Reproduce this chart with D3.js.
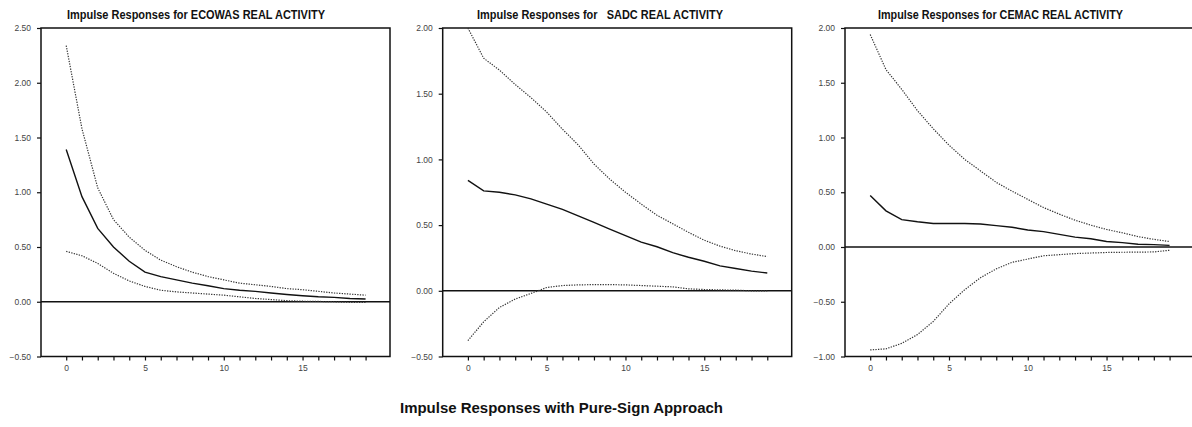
<!DOCTYPE html>
<html>
<head>
<meta charset="utf-8">
<script src="https://cdn.jsdelivr.net/npm/d3@7"></script>
<style>
  body { margin: 0; background: #fff; }
  svg { display: block; }
  .tick text { font-family: "Liberation Sans", Arial, sans-serif; font-size: 8.5px; fill: #444; }
  .title { font-family: "Liberation Sans", Arial, sans-serif; font-weight: bold; fill: #111; white-space: pre; }
</style>
</head>
<body>
<svg id="chart" width="1192" height="427"></svg>
<script>
// horizons (steps after shock)
const steps = [0, 1, 2, 3, 4, 5, 6, 7, 8, 9, 10, 11, 12, 13, 14, 15, 16, 17, 18, 19];
const xTickLabels = [0, 5, 10, 15];

// ECOWAS
const ecowasResp = [1.39, 0.96, 0.67, 0.50, 0.37, 0.27, 0.23, 0.20, 0.17, 0.146, 0.12, 0.105, 0.095, 0.08, 0.066, 0.055, 0.045, 0.04, 0.03, 0.025];
const ecowasUpper = [2.34, 1.58, 1.04, 0.75, 0.59, 0.47, 0.38, 0.32, 0.27, 0.23, 0.20, 0.17, 0.155, 0.14, 0.12, 0.11, 0.095, 0.08, 0.07, 0.06];
const ecowasLower = [0.46, 0.42, 0.35, 0.26, 0.19, 0.14, 0.105, 0.09, 0.08, 0.07, 0.06, 0.045, 0.03, 0.02, 0.01, 0.005, 0.003, 0.0, -0.005, -0.005];
const ecowasYTicks = [-0.5, 0, 0.5, 1.0, 1.5, 2.0, 2.5];

// SADC
const sadcResp = [0.84, 0.76, 0.75, 0.73, 0.70, 0.66, 0.62, 0.57, 0.52, 0.47, 0.42, 0.37, 0.335, 0.29, 0.255, 0.225, 0.19, 0.17, 0.15, 0.135];
const sadcUpper = [2.0, 1.77, 1.68, 1.57, 1.47, 1.36, 1.23, 1.11, 0.965, 0.85, 0.75, 0.66, 0.575, 0.51, 0.445, 0.385, 0.34, 0.305, 0.28, 0.26];
const sadcLower = [-0.38, -0.236, -0.127, -0.063, -0.02, 0.025, 0.04, 0.045, 0.047, 0.047, 0.045, 0.04, 0.035, 0.03, 0.015, 0.01, 0.007, 0.005, 0.0, 0.0];
const sadcYTicks = [-0.5, 0, 0.5, 1.0, 1.5, 2.0];

// CEMAC
const cemacResp = [0.47, 0.33, 0.25, 0.23, 0.215, 0.215, 0.215, 0.21, 0.195, 0.18, 0.155, 0.14, 0.115, 0.09, 0.075, 0.05, 0.04, 0.025, 0.022, 0.015];
const cemacUpper = [1.94, 1.62, 1.44, 1.245, 1.08, 0.93, 0.80, 0.695, 0.59, 0.51, 0.435, 0.36, 0.30, 0.245, 0.20, 0.16, 0.13, 0.095, 0.07, 0.05];
const cemacLower = [-0.94, -0.93, -0.88, -0.80, -0.68, -0.52, -0.39, -0.28, -0.20, -0.14, -0.11, -0.08, -0.07, -0.06, -0.055, -0.05, -0.048, -0.047, -0.045, -0.03];
const cemacYTicks = [-1.0, -0.5, 0, 0.5, 1.0, 1.5, 2.0];

const panels = [
  { title: "Impulse Responses for ECOWAS REAL ACTIVITY", left: 41, titleX: 67, titleW: 258,
    yDomain: [-0.5, 2.5], yTicks: ecowasYTicks, resp: ecowasResp, upper: ecowasUpper, lower: ecowasLower },
  { title: "Impulse Responses for   SADC REAL ACTIVITY", left: 442.7, titleX: 477, titleW: 246,
    yDomain: [-0.5, 2.0], yTicks: sadcYTicks, resp: sadcResp, upper: sadcUpper, lower: sadcLower },
  { title: "Impulse Responses for CEMAC REAL ACTIVITY", left: 845, titleX: 878, titleW: 245,
    yDomain: [-1.0, 2.0], yTicks: cemacYTicks, resp: cemacResp, upper: cemacUpper, lower: cemacLower }
];

const svg = d3.select("#chart");
const boxTop = 28, boxBottom = 356.5, boxW = 349;

panels.forEach((p) => {
  const x = d3.scaleLinear().domain([-1.6, 20.55]).range([p.left, p.left + boxW]);
  const y = d3.scaleLinear().domain(p.yDomain).range([boxBottom, boxTop]);
  const g = svg.append("g");

  g.append("text")
    .attr("class", "title")
    .attr("x", p.titleX)
    .attr("y", 18.5)
    .attr("font-size", 12)
    .attr("textLength", p.titleW)
    .attr("lengthAdjust", "spacingAndGlyphs")
    .text(p.title);

  const yAxis = d3.axisLeft(y).tickValues(p.yTicks).tickFormat(d3.format(".2f")).tickSize(4).tickPadding(6);
  g.append("g").attr("transform", `translate(${p.left},0)`).call(yAxis)
    .call((a) => a.select(".domain").remove())
    .call((a) => a.selectAll(".tick line").attr("stroke", "#111").attr("stroke-width", 1.2));

  const xAxis = d3.axisBottom(x).tickValues(steps)
    .tickFormat((d) => (xTickLabels.includes(d) ? d : ""))
    .tickSize(4).tickPadding(4);
  g.append("g").attr("transform", `translate(0,${boxBottom})`).call(xAxis)
    .call((a) => a.select(".domain").remove())
    .call((a) => a.selectAll(".tick line").attr("stroke", "#111").attr("stroke-width", 1.2));

  // frame
  g.append("rect")
    .attr("x", p.left).attr("y", boxTop)
    .attr("width", boxW).attr("height", boxBottom - boxTop)
    .attr("fill", "none").attr("stroke", "#111").attr("stroke-width", 1.5);

  // zero line
  g.append("line")
    .attr("x1", p.left).attr("x2", p.left + boxW)
    .attr("y1", y(0)).attr("y2", y(0))
    .attr("stroke", "#111").attr("stroke-width", 1.5);

  const line = d3.line().x((d, i) => x(steps[i])).y((d) => y(d));

  [p.upper, p.lower].forEach((band) => {
    g.append("path")
      .attr("d", line(band))
      .attr("fill", "none")
      .attr("stroke", "#333")
      .attr("stroke-width", 1.2)
      .attr("stroke-dasharray", "1.3,1.3");
  });

  g.append("path")
    .attr("d", line(p.resp))
    .attr("fill", "none")
    .attr("stroke", "#111")
    .attr("stroke-width", 1.4);
});

svg.append("text")
  .attr("class", "title")
  .attr("x", 400)
  .attr("y", 413)
  .attr("font-size", 15)
  .attr("textLength", 323)
  .attr("lengthAdjust", "spacingAndGlyphs")
  .text("Impulse Responses with Pure-Sign Approach");
</script>
</body>
</html>
